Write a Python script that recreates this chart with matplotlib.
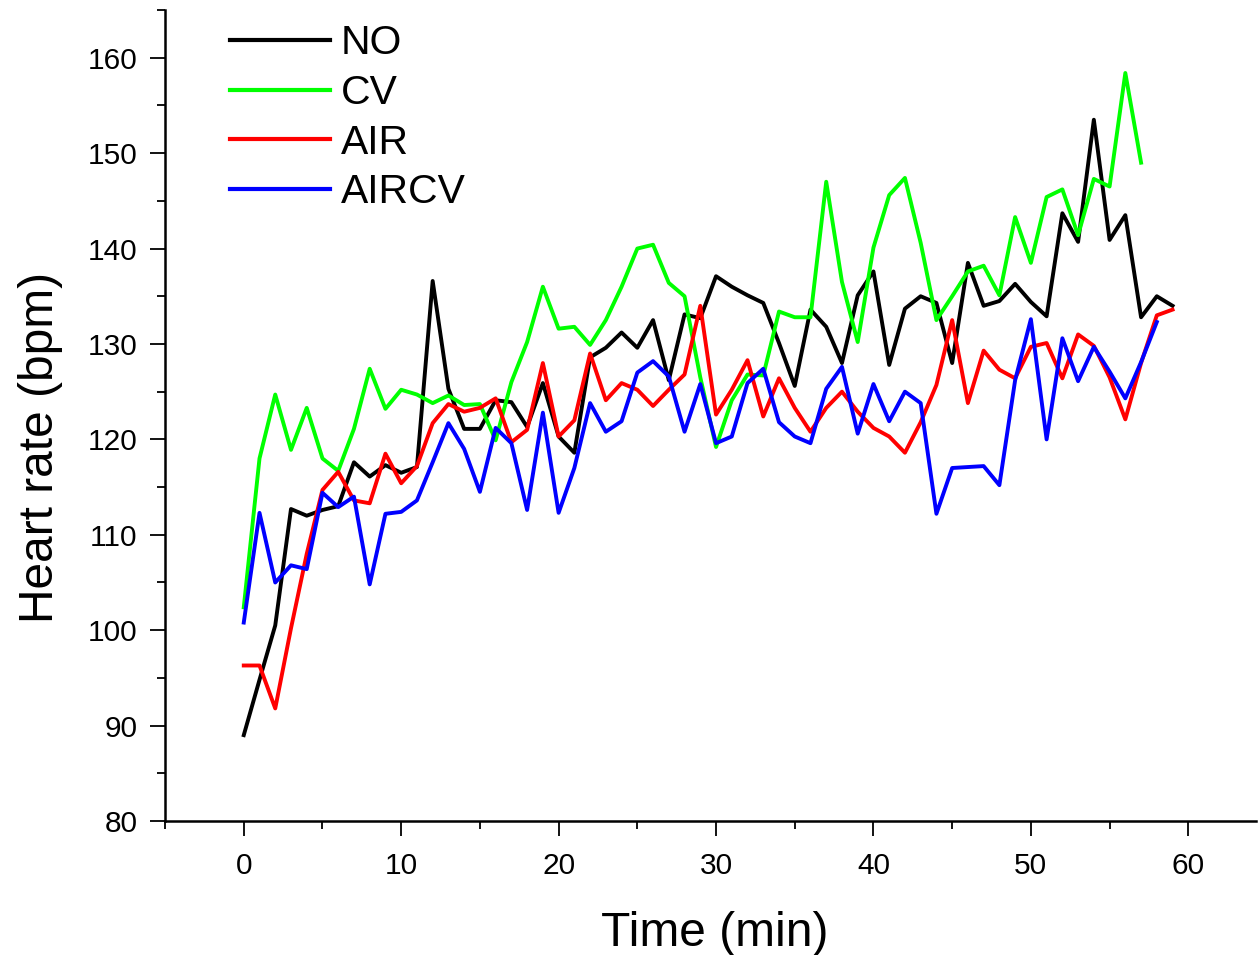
import matplotlib
matplotlib.use("Agg")
import matplotlib.pyplot as plt
from matplotlib.ticker import MultipleLocator

plt.rcParams['font.family'] = ['Liberation Sans', 'DejaVu Sans']

# Heart rate readings, one per minute
no_hr = [89.0, 94.8, 100.5, 112.7, 112.0, 112.6, 113.0, 117.6, 116.1, 117.3,
         116.5, 117.1, 136.6, 125.3, 121.1, 121.1, 124.1, 123.9, 121.3, 125.9,
         120.3, 118.6, 128.6, 129.6, 131.2, 129.6, 132.5, 126.2, 133.1, 132.7,
         137.1, 136.0, 135.1, 134.3, 130.1, 125.6, 133.6, 131.8, 128.0, 135.1,
         137.6, 127.8, 133.7, 135.0, 134.3, 128.0, 138.5, 134.0, 134.5, 136.3,
         134.4, 132.9, 143.7, 140.7, 153.5, 140.9, 143.5, 132.8, 135.0, 134.0]
cv_hr = [102.4, 118.0, 124.7, 118.9, 123.3, 118.0, 116.7, 121.1, 127.4, 123.2,
         125.2, 124.7, 123.8, 124.6, 123.6, 123.7, 119.9, 126.0, 130.2, 136.0,
         131.6, 131.8, 129.9, 132.5, 136.0, 140.0, 140.4, 136.4, 135.0, 126.5,
         119.2, 124.1, 126.8, 126.7, 133.4, 132.8, 132.8, 147.0, 136.5, 130.2,
         140.1, 145.6, 147.4, 140.6, 132.5, 135.0, 137.6, 138.2, 135.1, 143.3,
         138.5, 145.4, 146.2, 141.4, 147.3, 146.5, 158.4, 149.0]
air_hr = [96.3, 96.3, 91.8, 100.2, 108.0, 114.7, 116.6, 113.6, 113.3, 118.5,
          115.4, 117.2, 121.7, 123.7, 122.9, 123.3, 124.3, 119.7, 121.0, 128.0,
          120.3, 122.0, 129.0, 124.1, 125.9, 125.2, 123.5, 125.2, 126.8, 134.0,
          122.6, 125.2, 128.3, 122.4, 126.4, 123.3, 120.8, 123.3, 125.0, 122.9,
          121.2, 120.3, 118.6, 121.8, 125.7, 132.5, 123.8, 129.3, 127.3, 126.4,
          129.7, 130.1, 126.4, 131.0, 129.8, 126.5, 122.1, 128.0, 133.0, 133.6]
aircv_hr = [100.8, 112.3, 105.0, 106.8, 106.4, 114.4, 112.9, 114.0, 104.8, 112.2,
            112.4, 113.6, 117.6, 121.7, 119.0, 114.5, 121.2, 119.6, 112.6, 122.8,
            112.3, 117.0, 123.8, 120.8, 121.9, 127.0, 128.2, 126.6, 120.8, 125.8,
            119.6, 120.3, 125.9, 127.4, 121.8, 120.3, 119.6, 125.3, 127.6, 120.6,
            125.8, 121.9, 125.0, 123.8, 112.2, 117.0, 117.1, 117.2, 115.2, 126.2,
            132.6, 120.0, 130.6, 126.1, 129.7, 127.1, 124.3, 128.1, 132.3]

series = [("NO", no_hr, "#000000"),
          ("CV", cv_hr, "#00ff00"),
          ("AIR", air_hr, "#ff0000"),
          ("AIRCV", aircv_hr, "#0000ff")]

fig = plt.figure(figsize=(12.58, 9.55), dpi=100)
ax = fig.add_axes([0.1312, 0.1403, 0.8672, 0.8492])

for name, vals, col in series:
    ax.plot(range(len(vals)), vals, color=col, lw=2.8, label=name)

ax.set_xlim(-5, 64.3)
ax.set_ylim(80, 165)
ax.xaxis.set_major_locator(MultipleLocator(10))
ax.xaxis.set_minor_locator(MultipleLocator(5))
ax.yaxis.set_major_locator(MultipleLocator(10))
ax.yaxis.set_minor_locator(MultipleLocator(5))

for side in ["top", "right"]:
    ax.spines[side].set_visible(False)
for side in ["left", "bottom"]:
    ax.spines[side].set_linewidth(1.8)

ax.tick_params(which="major", length=11, width=1.3, labelsize=21.5)
ax.tick_params(which="minor", length=6, width=1.3)
ax.tick_params(axis="x", which="major", pad=11)
ax.tick_params(axis="y", which="major", pad=9)

ax.set_xlabel("Time (min)", fontsize=34.5)
ax.set_ylabel("Heart rate (bpm)", fontsize=34.5)
ax.xaxis.set_label_coords(0.504, -0.111)
ax.yaxis.set_label_coords(-0.094, 0.461)

leg = ax.legend(loc="upper left", bbox_to_anchor=(0.0405, 1.008), frameon=False,
                fontsize=29.4, handlelength=2.45, handletextpad=0.28,
                labelspacing=0.29, borderpad=0)
for line in leg.get_lines():
    line.set_linewidth(3)

fig.savefig("out.png", dpi=100)
